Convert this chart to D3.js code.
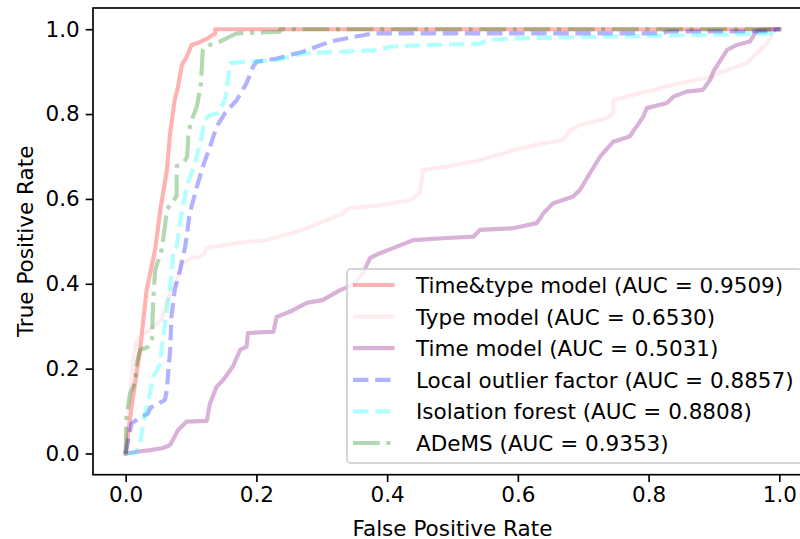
<!DOCTYPE html>
<html>
<head>
<meta charset="utf-8">
<script src="https://cdn.jsdelivr.net/npm/d3@7"></script>
<style>
  body { margin: 0; background: #fff; }
  svg { display: block; font-family: "DejaVu Sans", sans-serif; }
</style>
</head>
<body>
<svg id="drawing_region"></svg>
<script>
// ROC points [FPR, TPR]
const timeTypeRoc = [[0,0],[0.009,0.11],[0.022,0.244],[0.032,0.385],[0.045,0.48],[0.053,0.574],
    [0.063,0.668],[0.068,0.755],[0.075,0.833],[0.080,0.864],[0.086,0.916],[0.093,0.934],
    [0.101,0.963],[0.114,0.97],[0.126,0.979],[0.137,0.99],[0.137,1.0],[1,1]];

const typeRoc = [[0,0],[0.002,0.04],[0.011,0.22],[0.017,0.267],[0.024,0.279],[0.037,0.291],
    [0.045,0.303],[0.055,0.314],[0.062,0.354],[0.07,0.385],[0.08,0.415],[0.088,0.448],
    [0.095,0.455],[0.103,0.462],[0.113,0.462],[0.121,0.472],[0.124,0.484],[0.170,0.496],
    [0.216,0.503],[0.271,0.527],[0.282,0.534],[0.333,0.566],[0.340,0.578],[0.389,0.585],
    [0.435,0.597],[0.45,0.613],[0.453,0.644],[0.455,0.668],[0.491,0.676],[0.542,0.691],
    [0.593,0.715],[0.639,0.731],[0.669,0.739],[0.68,0.762],[0.695,0.774],[0.736,0.79],
    [0.746,0.802],[0.746,0.833],[0.797,0.853],[0.848,0.873],[0.889,0.885],[0.92,0.904],
    [0.95,0.92],[0.965,0.943],[0.981,0.966],[0.99,0.99],[0.994,1.0],[1,1]];

const timeRoc = [[0,0],[0.017,0.004],[0.037,0.008],[0.057,0.013],[0.068,0.02],[0.08,0.055],
    [0.093,0.075],[0.124,0.077],[0.129,0.118],[0.139,0.157],[0.149,0.173],[0.164,0.205],
    [0.175,0.244],[0.185,0.252],[0.187,0.284],[0.226,0.287],[0.231,0.322],[0.251,0.334],
    [0.277,0.355],[0.302,0.362],[0.328,0.385],[0.348,0.397],[0.363,0.425],[0.374,0.461],
    [0.389,0.472],[0.409,0.484],[0.44,0.503],[0.491,0.508],[0.532,0.511],[0.542,0.527],
    [0.593,0.531],[0.629,0.543],[0.639,0.566],[0.654,0.59],[0.684,0.605],[0.695,0.621],
    [0.71,0.66],[0.726,0.7],[0.746,0.735],[0.771,0.747],[0.792,0.794],[0.797,0.814],
    [0.828,0.826],[0.838,0.841],[0.858,0.853],[0.883,0.857],[0.894,0.88],[0.899,0.9],
    [0.92,0.951],[0.935,0.963],[0.955,0.971],[0.963,0.99],[0.967,0.998],[1,1]];

const lofRoc = [[0,0],[0.003,0.024],[0.009,0.071],[0.022,0.085],[0.034,0.094],[0.038,0.108],
    [0.05,0.118],[0.06,0.126],[0.063,0.15],[0.068,0.244],[0.07,0.322],[0.075,0.385],
    [0.083,0.432],[0.091,0.487],[0.098,0.566],[0.109,0.629],[0.118,0.676],[0.129,0.723],
    [0.139,0.77],[0.152,0.802],[0.17,0.833],[0.185,0.873],[0.195,0.912],[0.2,0.923],
    [0.231,0.931],[0.271,0.947],[0.313,0.971],[0.353,0.983],[0.378,0.99],[0.82,0.99],
    [0.83,0.995],[0.99,0.995],[0.995,1],[1,1]];

const isoRoc = [[0,0],[0.015,0],[0.022,0.024],[0.027,0.071],[0.037,0.142],[0.042,0.18],
    [0.053,0.212],[0.055,0.244],[0.065,0.361],[0.070,0.415],[0.073,0.48],[0.078,0.487],
    [0.086,0.574],[0.095,0.637],[0.106,0.684],[0.114,0.731],[0.121,0.786],[0.129,0.798],
    [0.141,0.802],[0.152,0.833],[0.160,0.92],[0.18,0.923],[0.231,0.927],[0.271,0.943],
    [0.389,0.951],[0.404,0.959],[0.45,0.962],[0.542,0.966],[0.557,0.975],[0.608,0.979],
    [0.756,0.983],[0.899,0.987],[0.996,0.99],[1,1]];

const ademsRoc = [[0,0],[0.001,0.086],[0.007,0.143],[0.014,0.166],[0.017,0.213],[0.022,0.244],
    [0.034,0.251],[0.040,0.268],[0.042,0.355],[0.045,0.432],[0.055,0.48],[0.060,0.535],
    [0.063,0.575],[0.078,0.607],[0.078,0.677],[0.088,0.684],[0.094,0.699],[0.096,0.755],
    [0.101,0.786],[0.109,0.818],[0.115,0.87],[0.118,0.951],[0.121,0.959],[0.144,0.971],
    [0.160,0.983],[0.170,0.99],[0.236,0.994],[0.236,1.0],[1,1]];

const labels = ["Time&type model (AUC = 0.9509)", "Type model (AUC = 0.6530)",
    "Time model (AUC = 0.5031)", "Local outlier factor (AUC = 0.8857)",
    "Isolation forest (AUC = 0.8808)", "ADeMS (AUC = 0.9353)"];
const colors = ["red", "pink", "purple", "blue", "cyan", "green"];
const xTicks = [0, 0.2, 0.4, 0.6, 0.8, 1.0];
const yTicks = [0, 0.2, 0.4, 0.6, 0.8, 1.0];

const lw = 4.17;
const dashes = [null, null, null, `${3.7*lw},${1.6*lw}`, `${3.7*lw},${1.6*lw}`,
    `${6.4*lw},${1.6*lw},${1*lw},${1.6*lw}`];
const series = [timeTypeRoc, typeRoc, timeRoc, lofRoc, isoRoc, ademsRoc];

const width = 800, height = 539;
const fontSize = 21.5;
const margin = {top: 8, right: -12, bottom: 64.3, left: 93};

const svg = d3.select('#drawing_region')
    .attr('width', width)
    .attr('height', height);

const x0 = margin.left, x1 = width - margin.right;
const y0 = height - margin.bottom, y1 = margin.top;

const xscale = d3.scaleLinear().domain([-0.05, 1.05]).range([x0, x1]);
const yscale = d3.scaleLinear().domain([-0.05, 1.05]).range([y0, y1]);

svg.append('defs').append('clipPath').attr('id', 'clip')
    .append('rect')
    .attr('x', x0).attr('y', y1)
    .attr('width', x1 - x0).attr('height', y0 - y1);

// lines
const line = d3.line()
    .x(d => xscale(d[0]))
    .y(d => yscale(d[1]));

const plot = svg.append('g').attr('clip-path', 'url(#clip)');
series.forEach((s, i) => {
    plot.append('path')
        .datum(s)
        .attr('d', line)
        .attr('fill', 'none')
        .attr('stroke', colors[i])
        .attr('stroke-opacity', 0.3)
        .attr('stroke-width', lw)
        .attr('stroke-linejoin', 'round')
        .attr('stroke-linecap', dashes[i] ? 'butt' : 'square')
        .attr('stroke-dasharray', dashes[i]);
});

// axes
const xaxis = d3.axisBottom(xscale)
    .tickValues(xTicks)
    .tickFormat(d3.format('.1f'))
    .tickSize(7.3)
    .tickPadding(5);
const yaxis = d3.axisLeft(yscale)
    .tickValues(yTicks)
    .tickFormat(d3.format('.1f'))
    .tickSize(7.3)
    .tickPadding(6);

const xaxis_group = svg.append('g')
    .attr('transform', `translate(0, ${y0})`)
    .call(xaxis);
const yaxis_group = svg.append('g')
    .attr('transform', `translate(${x0}, 0)`)
    .call(yaxis);

[xaxis_group, yaxis_group].forEach(g => {
    g.select('.domain').remove();
    g.selectAll('.tick line').attr('stroke', '#000').attr('stroke-width', 1.67);
    g.selectAll('.tick text')
        .attr('fill', '#000')
        .attr('font-family', '"DejaVu Sans", sans-serif')
        .attr('font-size', fontSize);
});

// frame
svg.append('rect')
    .attr('x', x0).attr('y', y1)
    .attr('width', x1 - x0).attr('height', y0 - y1)
    .attr('fill', 'none')
    .attr('stroke', '#000')
    .attr('stroke-width', 1.67);

// axis labels
svg.append('text')
    .attr('x', (x0 + x1) / 2)
    .attr('y', 535.5)
    .attr('text-anchor', 'middle')
    .attr('font-size', fontSize)
    .text('False Positive Rate');

svg.append('text')
    .attr('transform', `translate(33, ${(y0 + y1) / 2}) rotate(-90)`)
    .attr('text-anchor', 'middle')
    .attr('font-size', fontSize)
    .text('True Positive Rate');

// legend
const legend = svg.append('g').attr('transform', 'translate(347, 269)');
legend.append('rect')
    .attr('width', 455).attr('height', 194)
    .attr('rx', 4).attr('ry', 4)
    .attr('fill', '#fff').attr('fill-opacity', 0.8)
    .attr('stroke', '#ccc').attr('stroke-opacity', 0.8)
    .attr('stroke-width', 2);

labels.forEach((lab, i) => {
    const cy = 16 + i * 31.6;
    legend.append('line')
        .attr('x1', 6).attr('x2', 47.6)
        .attr('y1', cy).attr('y2', cy)
        .attr('stroke', colors[i])
        .attr('stroke-opacity', 0.3)
        .attr('stroke-width', lw)
        .attr('stroke-dasharray', dashes[i]);
    legend.append('text')
        .attr('x', 69)
        .attr('y', cy + 8)
        .attr('font-size', fontSize)
        .text(lab);
});
</script>
</body>
</html>
